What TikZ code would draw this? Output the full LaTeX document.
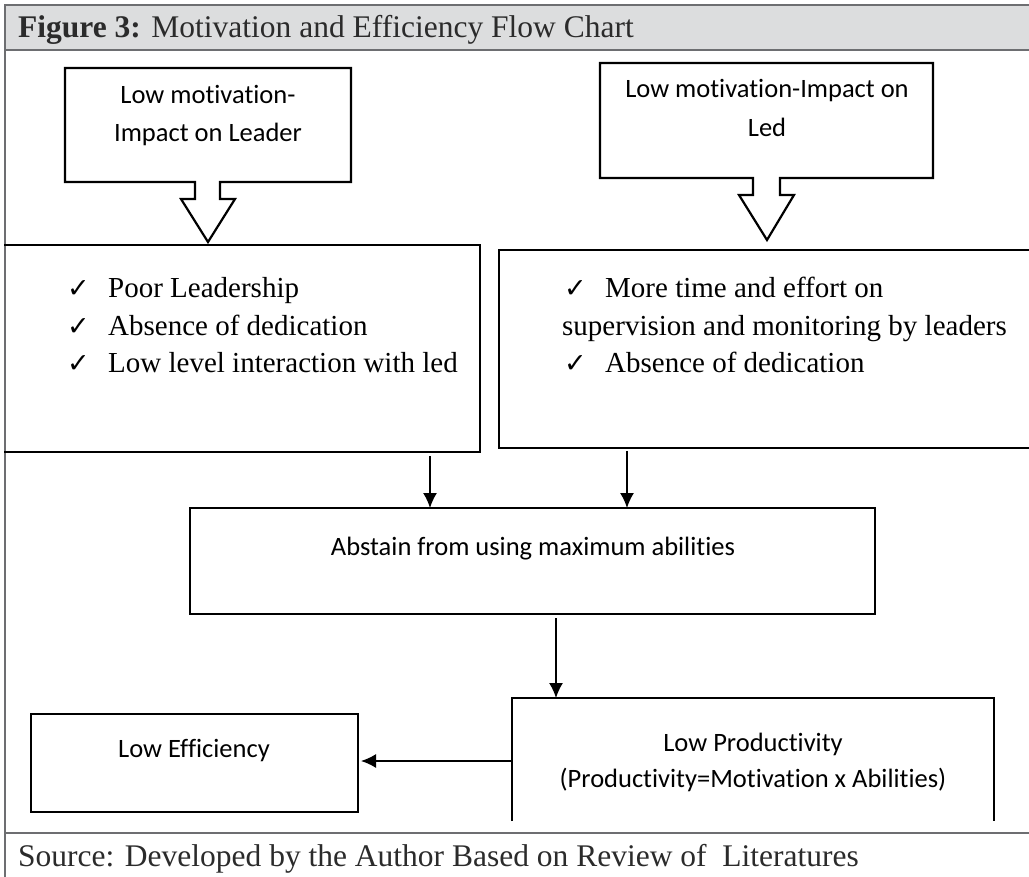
\documentclass[tikz,border=0pt]{standalone}
\usepackage{fontspec}
\setmainfont{Liberation Serif}
\newfontfamily\calfont[Ligatures={NoCommon}]{Carlito}
\newfontfamily\symfont{DejaVu Sans}
\usetikzlibrary{arrows.meta}
\definecolor{hdrfill}{HTML}{DCDDDE}
\definecolor{framecol}{HTML}{6D6E71}
\definecolor{captxt}{HTML}{2B2B2B}
\begin{document}
\begin{tikzpicture}[x=1pt,y=-1pt,
  outline/.style={draw=black,line width=2.2pt,line join=miter},
  framel/.style={draw=framecol,line width=1.3pt},
  arr/.style={draw=black,line width=1.5pt,-{Latex[length=15pt,width=14pt]}},
  area/.style={inner sep=0pt,outer sep=0pt,rectangle},
  boxtxt/.style={inner sep=0pt,anchor=base,font=\calfont\fontsize{26.5}{30}\selectfont},
  bultxt/.style={inner sep=0pt,anchor=base west,font=\fontsize{29}{34}\selectfont},
  chk/.style={inner sep=0pt,anchor=base west,font=\symfont\fontsize{27}{30}\selectfont},
  captxtst/.style={inner sep=0pt,anchor=base west,text=captxt,font=\fontsize{31.5}{36}\selectfont}]
\useasboundingbox (0,0) rectangle (1029,877);
% frame
\fill[hdrfill] (5,5) rectangle (1029,50);
\draw[framel] (1029,5) -- (5,5) -- (5,877);
\draw[framel] (5,50) -- (1029,50);
\draw[framel] (5,833) -- (1029,833);
\node[captxtst] (title) at (18,38) {\textbf{Figure 3:} Motivation and Efficiency Flow Chart};
\node[captxtst] (source) at (18,866) {Source: Developed by the Author Based on Review of \ Literatures};
% callout 1
\draw[outline] (65,68) -- (351,68) -- (351,182) -- (220,182) -- (220,199) -- (235,199) -- (208,242)
  -- (181,199) -- (195,199) -- (195,182) -- (65,182) -- cycle;
\node[boxtxt] (c1a) at (208,104) {Low motivation-};
\node[boxtxt] (c1b) at (208,142) {Impact on Leader};
% callout 2
\draw[outline] (600,63) -- (933,63) -- (933,178) -- (780,178) -- (780,195) -- (794,195) -- (767,240)
  -- (739,195) -- (753,195) -- (753,178) -- (600,178) -- cycle;
\node[boxtxt] (c2a) at (767,98) {Low motivation-Impact on};
\node[boxtxt] (c2b) at (767,137) {Led};
% left box
\node[area,minimum width=476pt,minimum height=207pt] (lb) at (242,348.5) {};
\draw[outline] (lb.north west) -- (lb.north east) -- (lb.south east) -- (lb.south west);
\node[chk] (lk1) at (67,298) {✓};
\node[bultxt] (l1) at (108,298) {Poor Leadership};
\node[chk] (lk2) at (67,336) {✓};
\node[bultxt] (l2) at (108,336) {Absence of dedication};
\node[chk] (lk3) at (67,373) {✓};
\node[bultxt] (l3) at (108,373) {Low level interaction with led};
% right box
\node[area,minimum width=530pt,minimum height=198pt] (rb) at (764,349) {};
\draw[outline] (rb.north east) -- (rb.north west) -- (rb.south west) -- (rb.south east);
\node[chk] (rk1) at (564,298) {✓};
\node[bultxt] (r1) at (605,298) {More time and effort on};
\node[bultxt] (r2) at (562,336) {supervision and monitoring by leaders};
\node[chk] (rk3) at (564,373) {✓};
\node[bultxt] (r3) at (605,373) {Absence of dedication};
% middle box
\node[area,outline,minimum width=685pt,minimum height=106pt] (mid) at (532.5,561) {};
\node[boxtxt] (midt) at (533,555) {Abstain from using maximum abilities};
% productivity box (open bottom)
\node[area,minimum width=482pt,minimum height=123pt] (prod) at (753,759.5) {};
\draw[outline] (prod.south west) -- (prod.north west) -- (prod.north east) -- (prod.south east);
\node[boxtxt] (prodt1) at (753,751) {Low Productivity};
\node[boxtxt] (prodt2) at (753,787) {(Productivity=Motivation x Abilities)};
% efficiency box
\node[area,outline,minimum width=327pt,minimum height=98pt] (eff) at (194.5,763) {};
\node[boxtxt] (efft) at (194,757) {Low Efficiency};
% connectors
\coordinate (xa) at (430,0);
\coordinate (xb) at (627,0);
\coordinate (xc) at (556,0);
\coordinate (yd) at (0,761);
\draw[arr] ([yshift=-4pt]lb.south -| xa) -- (mid.north -| xa);
\draw[arr] ([yshift=-3pt]rb.south -| xb) -- (mid.north -| xb);
\draw[arr] ([yshift=-4pt]mid.south -| xc) -- (prod.north -| xc);
\draw[arr] (prod.west |- yd) -- ([xshift=3pt]eff.east |- yd);
\end{tikzpicture}
\end{document}
